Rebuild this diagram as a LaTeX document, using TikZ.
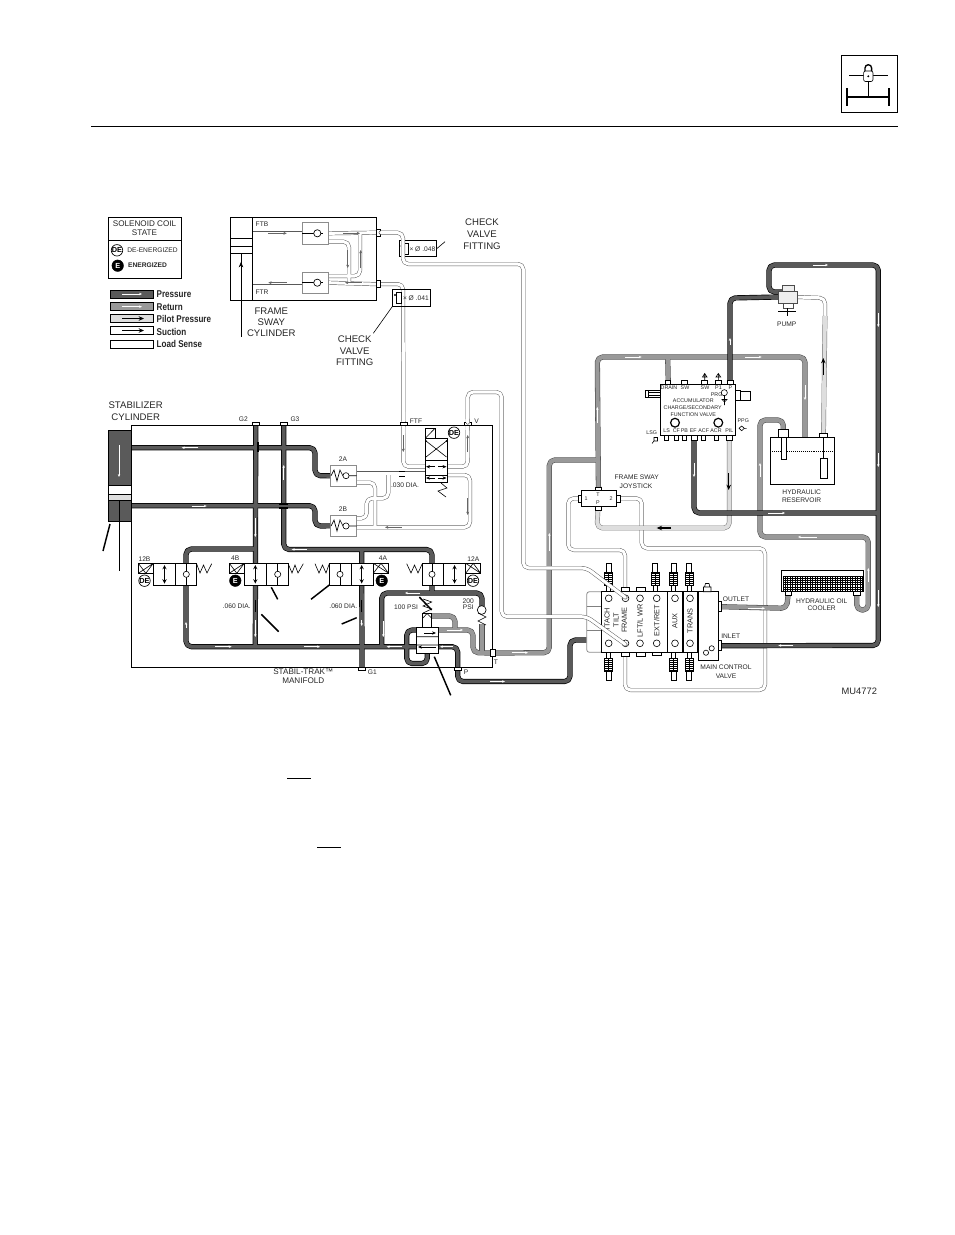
\documentclass[tikz,border=0pt]{standalone}
\usepackage{graphicx}
\usepackage{fontspec}
\setmainfont{Liberation Sans}
\usetikzlibrary{arrows.meta}
\pgfdeclarelayer{fg}
\pgfdeclarelayer{top}
\pgfsetlayers{main,fg,top}
\definecolor{cpress}{HTML}{5A5A5A}
\definecolor{cret}{HTML}{999999}
\definecolor{cpil}{HTML}{DEDEDE}
\newcounter{lb}
\newcommand\lab[4][]{\stepcounter{lb}\node[txt,#1] (lab\thelb) at (#2,#3) {#4};}
\newcommand\rectnode[6][]{\pgfmathsetmacro\rw{(#4-#2)*.75}\pgfmathsetmacro\rh{(#5-#3)*.75}\node[boxs,minimum width=\rw pt,minimum height=\rh pt,#1] (#6) at ({(#2+#4)/2},{(#3+#5)/2}) {};}
\newcommand\fa{\fontsize{7.2}{8}\selectfont}
\newcommand\fb{\fontsize{5}{6}\selectfont}
\newcommand\fc{\fontsize{4}{5}\selectfont}
\newcommand\fd{\fontsize{6.1}{7}\selectfont}
\newcommand\wa[4]{\draw[warrow] (#1,#2) -- (#3,#4);}
\newcommand\ba[4]{\draw[barrow] (#1,#2) -- (#3,#4);}
% solenoid symbol: x1 x2 y1 y2
\newcommand\sol[4]{\draw[thin1] (#1,#4) -- (#2,#3) (#1,#3) -- ({(#1+#2)/2},#4) -- (#2,#3);}
\newcommand\spool[3]{%
 \draw[thin1,fill=white] ({#1-2},#2) rectangle ({#1+2},{#2+#3*6});
 \draw[thin1,fill=white] ({#1-4},{#2+#3*6}) rectangle ({#1+4},{#2+#3*19});
 \foreach \k in {8,10,12,14,16,18}{\draw[thin1] ({#1-4},{#2+#3*\k}) -- ({#1+4},{#2+#3*\k});}
 \draw[thin1] (#1,{#2+#3*6}) -- (#1,{#2+#3*19});
 \draw[thin1,fill=white] ({#1-2.5},{#2+#3*19}) rectangle ({#1+2.5},{#2+#3*28});}
\tikzset{
 txt/.style={inner sep=0,outer sep=0,align=center,text=black!85,font=\fa},
 sm/.style={font=\fb},
 xs/.style={font=\fc},
 boxs/.style={draw=black,line width=.6pt,fill=white,inner sep=0,outer sep=0,rectangle},
 gbox/.style={draw=black!45},
 thin1/.style={draw=black,line width=.45pt},
 med/.style={draw=black,line width=.75pt},
 call/.style={draw=black,line width=1.1pt},
 warrow/.style={draw=white,line width=.4pt,-{Stealth[length=2.2pt,width=1.8pt]}},
 barrow/.style={draw=black,line width=.9pt,-{Stealth[length=4pt,width=3.4pt]}},
 pout/.style={draw=black,line width=3.9pt,rounded corners=4pt,line join=round},
 rout/.style={draw=black!70,line width=3.9pt,rounded corners=4pt,line join=round},
 lout/.style={draw=black!65,line width=3pt,rounded corners=4pt,line join=round},
 pin/.style={line width=2.9pt,rounded corners=4pt,line join=round},
 rin/.style={line width=3.1pt,rounded corners=4pt,line join=round},
 lin/.style={draw=white,line width=2.3pt,rounded corners=4pt,line join=round},
 sole/.style={circle,draw=black,fill=white,line width=.5pt,minimum size=8.6pt,inner sep=0,font=\bfseries\fontsize{5.5}{6}\selectfont},
 solb/.style={circle,draw=black,fill=black,text=white,minimum size=8.6pt,inner sep=0,font=\bfseries\fontsize{5.5}{6}\selectfont},
 chk/.style={circle,draw=black,fill=white,line width=.45pt,minimum size=4.6pt,inner sep=0},
 cv/.style={circle,draw=black,fill=white,line width=.5pt,minimum size=5.4pt,inner sep=0},
 gauge/.style={circle,draw=black,fill=white,line width=.9pt,minimum size=6.6pt,inner sep=0},
}
\newcommand\presspaths[1]{%
 \draw[#1] (131,447.7) -- (315,447.7) -- (315,475.7) -- (v2A.west);
 \draw[#1] (131,505.7) -- (315,505.7) -- (315,526) -- (v2B.west);
 \draw[#1] (G2.south) -- (255.3,646.7);
 \draw[#1] (G3.south) -- (283.7,549.5) -- (432,549.5) -- (432,593);
 \draw[#1] (361.7,549.5) -- (G1.north);
 \draw[#1] (255.3,549) -- (186,549) -- (186,646.7) -- (416,646.7);
 \draw[#1] (381.7,646.7) -- (381.7,593) -- (482,593) -- (482,606);
 \draw[#1] (P.north) -- (457.7,646.7) -- (438,646.7);
 \draw[#1] (416,630) -- (406.7,630) -- (406.7,663.5) -- (427.3,663.5) -- (427.3,653);
 \draw[#1] (P.south) -- (457.7,681.5) -- (570,681.5) -- (570,640) -- (587,640);
 \draw[#1] (pump.west) -- (730,298) -- (aP.north);
 \draw[#1] (aEF.south) -- (694,513) -- (878.3,513);
 \draw[#1] (784,292) -- (769,292) -- (769,265) -- (878.3,265) -- (878.3,645.5) -- (inlet.east);
}
\newcommand\retpaths[1]{%
 \draw[#1] (T.west) -- (473,652.7) -- (473,630) -- (438,630);
 \draw[#1] (431.7,616) -- (455,616) -- (455,630);
 \draw[#1] (482,624) -- (482,652.7);
 \draw[#1] (T.east) -- (549.3,652.7) -- (549.3,460) -- (597,460);
 \draw[#1] (js.north) -- (597.3,357) -- (805,357) -- (805,437);
 \draw[#1] (667.7,357) -- (aDR.north);
 \draw[#1] (rL.north) -- (783.3,420) -- (760,420) -- (760,537) -- (868.3,537) -- (868.3,610) -- (856.7,610) -- (cR.south);
 \draw[#1] (outlet.east) -- (786.7,608.3) -- (cL.south);
}
\newcommand\lspaths[1]{%
 \draw[#1] (pF2.east) -- (403,284) -- (FTF.north);
 \draw[#1] (FTF.south) -- (403.3,466.7) -- (425.3,466.7);
 \draw[#1] (V.south) -- (467.7,466.7) -- (447.3,466.7);
 \draw[#1] (356.7,473.3) -- (425.3,473.3);
 \draw[#1] (388.3,473.3) -- (388.3,498.3) -- (366.7,498.3) -- (366.7,518.3) -- (356.7,518.3);
 \draw[#1] (356.7,482.5) -- (375,482.5) -- (375,527);
 \draw[#1] (356.7,527.3) -- (470,527.3) -- (470,475) -- (447.3,475);
 \draw[#1] (328.3,233.3) -- (pF1.west);
 \draw[#1] (328.3,241.7) -- (349,241.7) -- (349,282);
 \draw[#1] (360,233.3) -- (360,276) -- (328.3,276);
 \draw[#1] (328.3,282.7) -- (pF2.west);
 \draw[#1] (252.3,233.3) -- (302.3,233.3);
 \draw[#1] (252.3,282.7) -- (302.3,282.7);
 \draw[#1] (js.west) -- (568.3,498.3) -- (568.3,550) -- (625,550) -- (mF.north);
 \draw[#1] (js.east) -- (641.7,498.3) -- (641.7,548.3) -- (765,548.3) -- (765,690) -- (625,690) -- (mFb.south);
 \draw[#1] (pump.east) -- (825,298) -- (825,320);
}
% the two long sense lines end on top of the control valve
\newcommand\diagpaths[1]{%
 \draw[#1] (pF1.east) -- (403,232.7) -- (403,264) -- (523.3,264) -- (523.3,568) -- (586.7,568) -- (625.5,597.5);
 \draw[#1] (V.north) -- (467.7,392) -- (501.7,392) -- (501.7,616.7) -- (586.7,616.7) -- (625.5,644.5);
}
\newcommand\pilpaths[1]{%
 \draw[#1] (aPIL.south) -- (729.3,528) -- (597,528) -- (js.south);
 \draw[#1] (825,316) -- (rR.north);
}
\begin{document}
\begin{tikzpicture}[x=.75pt,y=-.75pt]
\useasboundingbox (0,0) rectangle (954,1235);
% back shapes
\rectnode{131}{425}{492}{667}{manifold}
\rectnode{230}{217.3}{376}{300}{swaybox}

\begin{pgfonlayer}{fg}
% header
\rectnode{841}{55.7}{897.3}{112.3}{icon}
\draw[draw=black,line width=.9pt] (849,75.7) -- (888,75.7);
\draw[med] (868.3,81) -- (868.3,96.7);
\draw[draw=black,line width=1.6pt] (847.3,96.7) -- (889.3,96.7) (847.3,88.3) -- (847.3,106) (889.3,88.3) -- (889.3,106);
\draw[draw=black,line width=1pt] (865,72) -- (865,68) arc (180:360:3.3) -- (871.6,72);
\draw[thin1,fill=white,rounded corners=1.5pt] (863.6,71) rectangle (873,81.5);
\fill[black] (868.3,76.3) circle (1.1);
\draw[draw=black,line width=.9pt] (91,126.5) -- (898,126.5);
\draw[thin1] (287,778) -- (311,778) (317,847.5) -- (341,847.5);
% legend
\rectnode{108.3}{217.3}{181.3}{278.7}{legend}
\draw[thin1] (legend.west |- 0,240.7) -- (legend.east |- 0,240.7);
\lab[font=\fd]{144.5}{224}{SOLENOID COIL}
\lab[font=\fd]{144.5}{233}{STATE}
\node[sole] (legDE) at (117,250.3) {DE};
\lab[sm]{152.5}{250.5}{DE-ENERGIZED}
\node[solb] (legE) at (117.7,265.7) {E};
\lab[sm,font=\bfseries\fb]{147.5}{265.5}{ENERGIZED}
\rectnode[fill=cpress]{110}{290}{153.3}{298.3}{swP}
\rectnode[fill=cret]{110}{302.7}{153.3}{310.7}{swR}
\rectnode[fill=cpil]{110}{314.3}{153.3}{322.7}{swPil}
\rectnode{110}{326.7}{153.3}{334.3}{swS}
\rectnode{110.5}{340}{153.3}{348.3}{swL}
\wa{122}{294}{142}{294}
\wa{122}{306.7}{142}{306.7}
\ba{122}{318.5}{144}{318.5}
\ba{122}{330.5}{144}{330.5}
\newcommand\legt[3]{\lab[anchor=west]{156.7}{#1}{\scalebox{.82}[1]{\bfseries\fontsize{7.4}{8}\selectfont #2}}}
\legt{294}{Pressure}{}
\legt{306.7}{Return}{}
\legt{318.7}{Pilot Pressure}{}
\legt{331.5}{Suction}{}
\legt{343.5}{Load Sense}{}
% sway cylinder
\draw[med] (252.3,217.3) -- (252.3,300) (230,238.3) -- (252.3,238.3) (230,246.7) -- (252.3,246.7) (230,253.3) -- (252.3,253.3);
\draw[thin1] (241,253.3) -- (241,336.7);
\draw[barrow,line width=.4pt] (241,296) -- (241,262);
\rectnode[gbox]{302.3}{222.7}{328.3}{244}{svT}
\rectnode[gbox]{302.3}{272.3}{328.3}{293.3}{svB}
\draw[med] (302.3,233.3) -- (323,233.3) (302.3,282.7) -- (323,282.7);
\node[cv] (svTc) at (317.3,233.3) {};
\node[cv] (svBc) at (317.3,282.7) {};
\rectnode{376.7}{229.3}{380.7}{236}{pF1}
\rectnode{376.7}{280.7}{380.7}{287.7}{pF2}
\lab[sm]{262}{224.7}{FTB}
\lab[sm]{262}{292.7}{FTR}
\lab{271.3}{311}{FRAME}
\lab{271.3}{322.5}{SWAY}
\lab{271.3}{333.5}{CYLINDER}
% check fittings
\rectnode[fill=none]{399.3}{240.7}{436.7}{256.7}{cf1}
\rectnode[fill=none]{392.7}{289.3}{430.7}{306}{cf2}
\draw[thin1,fill=white] (403,243) rectangle (408,254);
\draw[thin1,fill=white] (396,292) rectangle (401.5,303);
\fill[black] (401.5,246) circle (1.2) (395,295) circle (1.2);
\lab[sm,anchor=west]{409.5}{249}{× Ø .048}
\lab[sm,anchor=west]{403}{298}{× Ø .041}
\draw[thin1] (cf1.east) -- (445,241.7);
\draw[thin1] (cf2.south west) -- (373.3,333.3);
\lab{482}{222}{CHECK}
\lab{482}{234}{VALVE}
\lab{482}{246}{FITTING}
\lab{354.7}{339}{CHECK}
\lab{354.7}{351}{VALVE}
\lab{354.7}{362.5}{FITTING}
% stabilizer
\lab{135.7}{404.7}{STABILIZER}
\lab{135.7}{416.7}{CYLINDER}
\rectnode[fill=cpress]{108}{430}{131}{521}{stab}
\rectnode{108}{485.5}{131}{494}{stabW}
\rectnode[fill=cpil]{108}{494}{131}{500.5}{stabP}
\draw[thin1] (119.3,500.5) -- (119.3,571);
\draw[call] (110,524) -- (103,551);
\wa{119}{445}{119}{477}
% manifold ports & labels
\rectnode{252.5}{422.5}{259}{425.5}{G2}
\rectnode{280.5}{422.5}{287}{425.5}{G3}
\rectnode{400}{422.5}{407}{425.5}{FTF}
\rectnode{464.5}{422.5}{471}{425.5}{V}
\rectnode{358.5}{667.5}{365.5}{670}{G1}
\rectnode{454.5}{667.5}{461}{670}{P}
\rectnode{490.7}{649.3}{495}{656.7}{T}
\lab[sm]{243.3}{419.5}{G2}
\lab[sm]{295}{419.5}{G3}
\lab[sm]{416}{421.5}{FTF}
\lab[sm]{476.7}{421.5}{V}
\lab[sm]{372.3}{671.7}{G1}
\lab[sm]{466}{671.7}{P}
\lab[sm]{496}{661.7}{T}
\lab[font=\fd]{303.3}{672}{STABIL-TRAK™}
\lab[font=\fd]{303.3}{681}{MANIFOLD}
% 2A 2B
\rectnode[gbox]{330.7}{465}{356.7}{486.7}{v2A}
\rectnode[gbox]{330.7}{515}{356.7}{536.7}{v2B}
\lab[sm]{343}{459.5}{2A}
\lab[sm]{343}{509.3}{2B}
\draw[med,line width=.5pt] (331,475.7) -- (334,470) -- (337,481) -- (340,470) -- (343,476) (349,475.7) -- (356.7,475.7);
\draw[med,line width=.5pt] (331,526) -- (334,520) -- (337,531) -- (340,520) -- (343,526) (349,526) -- (356.7,526);
\node[chk] (c2A) at (346,475.7) {};
\node[chk] (c2B) at (346,526) {};
\draw[med] (399,471) -- (405,471) (399,476) -- (405,476);
\lab[sm]{405}{485}{.030 DIA.}
% sway solenoid valve
\rectnode{425.3}{438.3}{447.3}{482.3}{vSway}
\rectnode{425.3}{428.3}{435}{438.3}{vSwayS}
\draw[thin1] (425.3,438.3) -- (435,428.3);
\draw[med] (425.3,460) -- (447.3,460) (425.3,475) -- (447.3,475);
\draw[thin1] (426,441) -- (446.5,457) (446.5,441) -- (426,457);
\draw[thin1,-{Stealth[length=3pt,width=2.5pt]}] (435,466.7) -- (426,466.7);
\draw[thin1,-{Stealth[length=3pt,width=2.5pt]}] (438,466.7) -- (446.5,466.7);
\draw[thin1,-{Stealth[length=3pt,width=2.5pt]}] (435,478) -- (426,478);
\draw[thin1,-{Stealth[length=3pt,width=2.5pt]}] (438,478) -- (446.5,478);
\fill[black] (426,441) circle (1) (446.5,441) circle (1);
\node[sole] (swDE) at (454,432.7) {DE};
\draw[thin1] (441,483) -- (447,488) -- (438,491) -- (446,497);
% solenoid valves
\rectnode{153.3}{563.3}{196.7}{585.3}{v12B}
\draw[med] (175.7,563.3) -- (175.7,585.3);
\rectnode{138.3}{563.3}{153.3}{573.3}{s12B}
\sol{138.3}{153.3}{563.3}{573.3}
\draw[thin1] (196.7,564) -- (200,573) -- (203.5,565) -- (207,573) -- (211.7,563.7);
\draw[thin1,<->,>=stealth] (164.5,565) -- (164.5,583.5);
\draw[thin1] (186.3,563.3) -- (186.3,585.3);
\node[chk] (c12B) at (186.3,574.3) {};
\node[sole] (de12B) at (144.5,580.7) {DE};
\lab[sm]{144.5}{558.7}{12B}
\rectnode{244.3}{563.3}{288.3}{585.3}{v4B}
\draw[med] (266.3,563.3) -- (266.3,585.3);
\rectnode{229.3}{563.3}{244.3}{573.3}{s4B}
\sol{229.3}{244.3}{563.3}{573.3}
\draw[thin1] (288.3,564) -- (292,573) -- (295,565) -- (298,573) -- (303.3,563.7);
\draw[thin1,<->,>=stealth] (255.3,565) -- (255.3,583.5);
\draw[thin1] (277.7,563.3) -- (277.7,585.3);
\node[chk] (c4B) at (277.7,574.3) {};
\node[solb] (e4B) at (235.3,580.7) {E};
\lab[sm]{235.3}{558.7}{4B}
\rectnode{329.3}{563.3}{373.3}{585.3}{v4A}
\draw[med] (351.3,563.3) -- (351.3,585.3);
\rectnode{373.3}{563.3}{388.7}{573.3}{s4A}
\sol{373.3}{388.7}{573.3}{563.3}
\draw[thin1] (315,563.7) -- (319,573) -- (322.5,565) -- (326,573) -- (329.3,563.7);
\draw[thin1,<->,>=stealth] (361.7,565) -- (361.7,583.5);
\draw[thin1] (340,563.3) -- (340,585.3);
\node[chk] (c4A) at (340,574.3) {};
\node[solb] (e4A) at (381.7,580.7) {E};
\lab[sm]{383}{558.7}{4A}
\rectnode{422.3}{563.3}{465.7}{585.3}{v12A}
\draw[med] (443.7,563.3) -- (443.7,585.3);
\rectnode{465.7}{563.3}{480.7}{573.3}{s12A}
\sol{465.7}{480.7}{573.3}{563.3}
\draw[thin1] (406.7,563.7) -- (411,573) -- (414.5,565) -- (418,573) -- (422.3,563.7);
\draw[thin1,<->,>=stealth] (454.5,565) -- (454.5,583.5);
\draw[thin1] (432,563.3) -- (432,585.3);
\node[chk] (c12A) at (432,574.3) {};
\node[sole] (de12A) at (473,580.7) {DE};
\lab[sm]{473.3}{558.7}{12A}
% callouts and orifices
\draw[call] (271.3,587.3) -- (277.7,599.3) (329.3,585) -- (311,599.3) (261.3,614.3) -- (278.7,631.7) (356.7,617.7) -- (341.7,624) (434.3,656.7) -- (450.7,695.3);
\draw[call] (255.3,600) -- (255.3,612) (361.7,600) -- (361.7,612);
\draw[call] (258,442) -- (258,452) (279,504) -- (288,504) (279,508) -- (288,508);
\lab[sm]{236.7}{605.7}{.060 DIA.}
\lab[sm]{343.3}{605.7}{.060 DIA.}
% relief group
\rectnode{416}{627.3}{438.5}{653.3}{vR}
\rectnode{422.7}{613.3}{431.7}{627.3}{vRp}
\draw[thin1] (416,636.7) -- (438.5,636.7) (416,645) -- (438.5,645) (423,618) -- (427,613.5) -- (431.5,618);
\draw[thin1,-{Stealth[length=3pt,width=2.5pt]}] (424,633) -- (436,633);
\draw[thin1,-{Stealth[length=3pt,width=2.5pt]}] (436,647) -- (418,647);
\draw[thin1] (423,613) -- (431.7,609) -- (423,606) -- (431.7,602) -- (423,599);
\draw[call] (419.3,597) -- (431.7,610);
\node[cv,minimum size=6.6pt] (c200) at (481.7,610) {};
\draw[thin1] (478,613) -- (486,617) -- (478,621) -- (486,625);
\lab[sm]{406}{606.7}{100 PSI}
\lab[sm]{468.3}{600.7}{200}
\lab[sm]{468.3}{607.5}{PSI}
% pump
\rectnode[fill=cpil!50,draw=black!70]{782}{285}{794}{291}{pumpT}
\rectnode[fill=cpil!50,draw=black!70]{778}{291}{797}{303}{pump}
\rectnode[fill=white,draw=black!70]{783}{303}{793}{308}{pumpN}
\draw[draw=black,line width=1pt] (778,311.5) -- (796,311.5);
\draw[thin1] (787,308) -- (787,316);
\lab[sm]{786.7}{324}{PUMP}
% accumulator
\rectnode{660.3}{384.3}{735.7}{435.7}{accum}
\rectnode{665.7}{380.7}{670.7}{384.3}{aDR}
\rectnode{681.7}{380.7}{687.7}{384.3}{aSW}
\rectnode{701.7}{380.7}{707.7}{384.3}{aSWb}
\rectnode{715.7}{380.7}{721.7}{384.3}{aP1}
\rectnode{727}{380.7}{733}{384.3}{aP}
\rectnode{664.5}{435.7}{668.5}{440}{aLS}
\rectnode{674.3}{435.7}{678.3}{440}{aCF}
\rectnode{682.3}{435.7}{686.3}{440}{aPB}
\rectnode{691}{435.7}{697}{440}{aEF}
\rectnode{701.7}{435.7}{705.7}{440}{aACF}
\rectnode{714}{435.7}{718}{440}{aACR}
\rectnode{726.5}{435.7}{732}{440}{aPIL}
\lab[xs]{669}{387.5}{DRAIN}
\lab[xs]{685}{387.5}{SW}
\lab[xs]{705}{387.5}{SW}
\lab[xs]{718.5}{387.5}{P1}
\lab[xs]{730.3}{387.5}{P}
\lab[xs]{693.3}{400.7}{ACCUMULATOR}
\lab[xs]{692.7}{407.7}{CHARGE/SECONDARY}
\lab[xs]{693.3}{415}{FUNCTION VALVE}
\lab[xs]{666.7}{431}{LS}
\lab[xs]{676.3}{431}{CF}
\lab[xs]{684.3}{431}{PB}
\lab[xs]{693.3}{431}{EF}
\lab[xs]{703.7}{431}{ACF}
\lab[xs]{716}{431}{ACR}
\lab[xs]{729.3}{431}{PIL}
\lab[xs]{716.7}{395}{PRG}
\lab[xs]{743.3}{421}{PPG}
\lab[xs]{651.7}{432.3}{LSG}
\node[gauge] (g1) at (675,422.7) {};
\node[gauge] (g2) at (718.3,422.7) {};
\node[chk] (gPRG) at (724.3,392.7) {};
\draw[thin1] (704.7,373) -- (704.7,380.7) (702.5,377) -- (704.7,373.5) -- (707,377) -- cycle;
\draw[thin1] (718.3,373) -- (718.3,380.7) (716,377) -- (718.3,373.5) -- (720.7,377) -- cycle;
\draw[thin1] (724.5,395) -- (724.5,405) (722,399.5) -- (724.5,402) -- (727,399.5) -- cycle;
\draw[thin1] (739,428.3) -- (741.7,426) -- (744.3,428.3) -- (741.7,430.7) -- cycle (744.5,428.3) -- (746.5,428.3);
\draw[thin1] (654,437.5) rectangle (657.5,441) (654,441) -- (652,443.5);
\rectnode{645}{390}{660.3}{397.3}{aLeft}
\draw[thin1] (648,390) -- (648,397.3) (648,392) -- (660.3,392) (648,395.3) -- (660.3,395.3);
\rectnode{735.7}{390}{740}{400}{aRightP}
\rectnode{740}{391.5}{750}{400}{aRight}
% reservoir
\rectnode{770}{437.3}{834.3}{484.3}{res}
\rectnode{778.3}{429.3}{788.3}{437.3}{rL}
\rectnode{819.3}{433.3}{827.7}{437.3}{rR}
\draw[thin1,densely dotted] (770,451.7) -- (834.3,451.7);
\rectnode{781.7}{437.3}{786}{459.3}{rTube}
\draw[thin1] (823.5,437.3) -- (823.5,458.3);
\rectnode{820}{458.3}{827.7}{478.3}{rFilt}
\lab[sm]{801.7}{491.7}{HYDRAULIC}
\lab[sm]{801.7}{500}{RESERVOIR}
% joystick
\rectnode{581}{490.7}{616.7}{506.7}{jsB}
\rectnode{578.3}{495}{581}{502.5}{jsW}
\rectnode{616.7}{495}{620}{502.5}{jsE}
\rectnode{595}{487.5}{601.5}{490.7}{jsN}
\rectnode{595}{506.7}{601.5}{510.5}{jsS}
\coordinate (js) at (598.5,498.7);
\lab[xs]{586}{498.3}{1}
\lab[xs]{598}{494.3}{T}
\lab[xs]{598}{502.3}{P}
\lab[xs]{611}{498.3}{2}
\lab[sm]{636.7}{477.3}{FRAME SWAY}
\lab[sm]{636}{486}{JOYSTICK}
% cooler
\rectnode{781.7}{570}{863.3}{591.7}{cooler}
\rectnode{783.5}{576}{862}{591.7}{coolerG}
\foreach \x in {785,787.5,...,861}{\draw[thin1,line width=.35pt] (\x,576) -- (\x,591.7);}
\foreach \y in {578,580.2,...,591}{\draw[thin1,line width=.35pt] (783.5,\y) -- (862,\y);}
\rectnode{785}{591.7}{791}{595.5}{cL}
\rectnode{853.5}{591.7}{860}{595.5}{cR}
\lab[sm]{821.7}{600.7}{HYDRAULIC OIL}
\lab[sm]{821.7}{608.3}{COOLER}
% main control valve
\rectnode[gbox,rounded corners=2pt]{586.7}{591.7}{603}{652.3}{mLeft}
\draw[thin1,draw=black!50] (586.7,606) -- (601.7,606) (586.7,630) -- (601.7,630);
\rectnode{601.7}{591.7}{667}{652.3}{mMain}
\rectnode[line width=.8pt]{667.7}{591.7}{682.7}{652.3}{mAux}
\rectnode[line width=.8pt]{683.3}{591.7}{697.3}{652.3}{mTrans}
\rectnode{698.3}{591.7}{718.3}{660}{mOut}
\rectnode{621}{587.7}{629}{591.7}{mF}
\rectnode{636}{587.7}{645}{591.7}{mL}
\rectnode{621}{652.3}{629}{656.7}{mFb}
\rectnode{636}{652.3}{645}{656.7}{mLb}
\rectnode{652}{652.3}{661}{655}{mEb}
\rectnode{718.3}{601.7}{721}{611.7}{outlet}
\rectnode{718.3}{640.7}{721}{650.7}{inlet}
\foreach \x in {608.7,625.5,640,656.7,675,690}{
 \draw[thin1] (\x,598.3) circle (3.4);
 \draw[thin1] (\x,643.3) circle (3.4);
}
\draw[thin1] (706,652.7) circle (2.6) (711.7,648.3) circle (2.6);
\spool{608.7}{591.7}{-1}
\spool{655}{591.7}{-1}
\spool{673.3}{591.7}{-1}
\spool{689}{591.7}{-1}
\spool{608.7}{652.3}{1}
\spool{673.3}{652.3}{1}
\spool{689}{652.3}{1}
\draw[thin1,fill=white] (703.5,591.7) rectangle (711,587) (704.5,587) -- (705.5,583.5) -- (709,583.5) -- (710,587);
\newcommand\vlab[2]{\lab[sm,rotate=90,font=\fontsize{5.5}{7}\selectfont]{#1}{#2}}
\vlab{607}{620}{TTACH}
\vlab{616}{620}{TILT}
\vlab{624.3}{620}{FRAME}
\vlab{640}{620.7}{LFT/L WR}
\vlab{656.7}{620.7}{EXT/RET}
\vlab{675}{621}{AUX}
\vlab{690}{621}{TRANS}
\lab[sm]{736}{599.3}{OUTLET}
\lab[sm]{730.7}{636.3}{INLET}
\lab[sm]{726}{667.3}{MAIN CONTROL}
\lab[sm]{726}{676.3}{VALVE}
\lab[font=\fontsize{7}{8}\selectfont]{859.3}{691.7}{MU4772}
\end{pgfonlayer}

% pipes
\lspaths{lout}
\lspaths{lin}
\retpaths{rout}
\retpaths{rin,draw=cret}
\pilpaths{rout,line width=3.6pt,draw=black!55}
\pilpaths{rin,line width=2.9pt,draw=cpil}
\presspaths{pout}
\presspaths{pin,draw=cpress}
\begin{pgfonlayer}{top}
\diagpaths{lout,line cap=round}
\diagpaths{lin,line cap=round}
\end{pgfonlayer}

% pipe arrows
\foreach \a/\b/\c/\d in {198.3/447.7/181.7/447.7,191.7/506/206.7/506,283.7/480/283.7/465,255.3/518/255.3/537,255.3/620/255.3/637,215/646.7/231.7/646.7,304/646.7/320/646.7,401.7/646.7/386.7/646.7,453/646.7/440/646.7,186/628/186/622,361.7/620/361.7/626,306.7/549.5/291.7/549.5,420/593/405/593,383.3/621/383.3/637,446.7/630/463/630,511.7/652.7/528/652.7,549.3/551/549.3/533,597.3/423/597.3/407,625/357/641.7/357,745/357/761.7/357,805/385/805/400,694/463/694/477,768/513/785/513,813/265/828/265,878.3/313/878.3/327,878.3/453/878.3/467,793.3/645.5/778.3/645.5,760/477/760/463,816.7/537/798/537,868.3/582/868.3/568,748/608.3/765/608.3,878.3/590/878.3/607,730/345/730/338,490/681.5/505/681.5}
{\draw[warrow] (\a,\b) -- (\c,\d);}
\foreach \a/\b/\c/\d in {268.3/233.3/286.7/233.3,286.7/282.7/268.3/282.7,343.3/233.3/360/233.3,361.7/282.7/345/282.7,347.7/250/347.7/268,360.7/268/360.7/250,403.3/435/403.3/452,467.7/452/467.7/435,467.7/498/467.7/515,401.7/527.3/385/527.3}
{\draw[draw=black!60,line width=1pt,-{Stealth[length=2.5pt,width=2.2pt]}] (\a,\b) -- (\c,\d);}
\ba{728.7}{473}{728.7}{490}
\ba{671}{528}{656.7}{528}
\ba{823.3}{375}{823.3}{358}
\end{tikzpicture}
\end{document}
